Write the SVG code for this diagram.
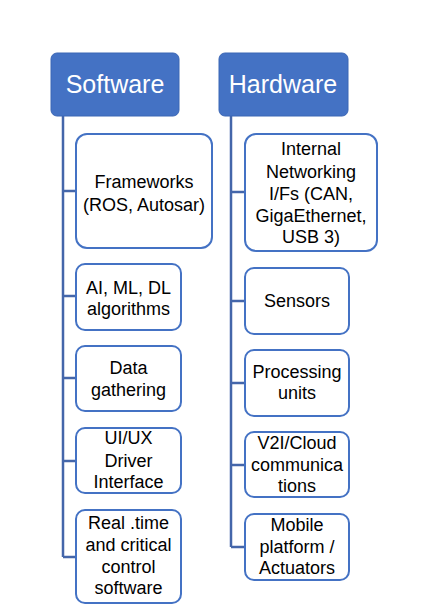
<svg xmlns="http://www.w3.org/2000/svg" width="425" height="615" viewBox="0 0 425 615">
<style>
.hdr{fill:#4472C4;stroke:#3B66B5;stroke-width:1}
.box{fill:#fff;stroke:#4472C4;stroke-width:2}
.ht{font-family:"Liberation Sans",Arial,sans-serif;font-size:25px;fill:#fff;text-anchor:middle}
.t{font-family:"Liberation Sans",Arial,sans-serif;font-size:18px;fill:#000;text-anchor:middle}
.c{fill:none;stroke:#4466AA;stroke-width:2.5}
</style>
<rect width="425" height="615" fill="#fff"/>
<g id="connectors">
<path class="c" d="M63 116V557M63 191H76M63 296H76M63 378H76M63 461H76M63 557H76"/>
<path class="c" d="M231 116V547M231 192H245M231 301H245M231 383H245M231 465H245M231 547H245"/>
</g>
<g id="software"><rect class="hdr" x="51" y="53" width="128" height="63" rx="6"/><text class="ht" x="115" y="93">Software</text></g>
<g id="hardware"><rect class="hdr" x="219" y="53" width="129" height="63" rx="6"/><text class="ht" x="283" y="93">Hardware</text></g>
<g id="frameworks"><rect class="box" x="76" y="134" width="136" height="114" rx="11"/><text class="t" x="144" y="188">Frameworks</text><text class="t" x="144" y="211">(ROS, Autosar)</text></g>
<g id="ai"><rect class="box" x="76" y="264" width="105" height="66" rx="9"/><text class="t" x="128.5" y="294">AI, ML, DL</text><text class="t" x="128.5" y="315">algorithms</text></g>
<g id="data"><rect class="box" x="76" y="346" width="105" height="65" rx="9"/><text class="t" x="128.5" y="374">Data</text><text class="t" x="128.5" y="396">gathering</text></g>
<g id="uiux"><rect class="box" x="76" y="428" width="105" height="65" rx="9"/><text class="t" x="128.5" y="444">UI/UX</text><text class="t" x="128.5" y="467">Driver</text><text class="t" x="128.5" y="488">Interface</text></g>
<g id="realtime"><rect class="box" x="76" y="510" width="105" height="93" rx="9"/><text class="t" x="128.5" y="529">Real .time</text><text class="t" x="128.5" y="551">and critical</text><text class="t" x="128.5" y="573">control</text><text class="t" x="128.5" y="594">software</text></g>
<g id="networking"><rect class="box" x="245" y="134" width="132" height="117" rx="11"/><text class="t" x="311" y="155">Internal</text><text class="t" x="311" y="178">Networking</text><text class="t" x="311" y="200">I/Fs (CAN,</text><text class="t" x="311" y="222">GigaEthernet,</text><text class="t" x="311" y="243">USB 3)</text></g>
<g id="sensors"><rect class="box" x="245" y="268" width="104" height="66" rx="9"/><text class="t" x="297" y="307">Sensors</text></g>
<g id="processing"><rect class="box" x="245" y="350" width="104" height="66" rx="9"/><text class="t" x="297" y="378">Processing</text><text class="t" x="297" y="399">units</text></g>
<g id="v2i"><rect class="box" x="245" y="432" width="104" height="65" rx="9"/><text class="t" x="297" y="449">V2I/Cloud</text><text class="t" x="297" y="471">communica</text><text class="t" x="297" y="492">tions</text></g>
<g id="mobile"><rect class="box" x="245" y="514" width="104" height="66" rx="9"/><text class="t" x="297" y="531">Mobile</text><text class="t" x="297" y="553">platform /</text><text class="t" x="297" y="574">Actuators</text></g>
</svg>
